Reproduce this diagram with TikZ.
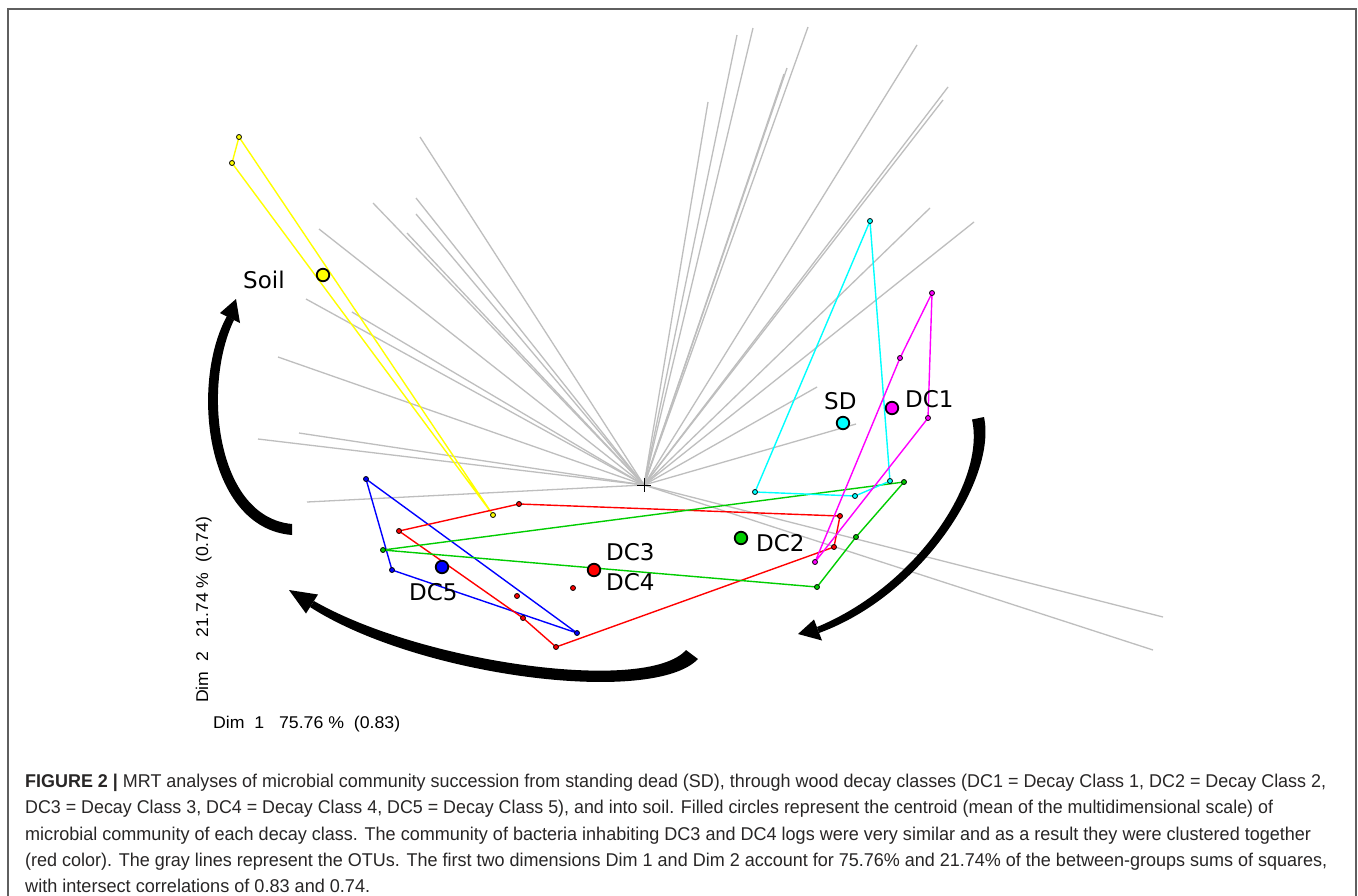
\documentclass[tikz,border=0pt]{standalone}
\usepackage{fontspec}
\setmainfont{Liberation Sans}
\newfontfamily\dejavu{DejaVu Sans}
\usepackage{graphicx}
\definecolor{otugray}{RGB}{190,190,190}
\definecolor{grn}{RGB}{0,205,0}
\definecolor{yel}{RGB}{255,255,0}
\definecolor{blu}{RGB}{0,0,255}
\definecolor{rd}{RGB}{255,0,0}
\definecolor{cyn}{RGB}{0,255,255}
\definecolor{mag}{RGB}{255,0,255}
\definecolor{capcol}{RGB}{40,38,38}
\definecolor{framecol}{RGB}{95,95,95}
\newcommand\fitw[2]{\resizebox{#1pt}{\height}{#2}}
\tikzset{
  otu/.style={draw=otugray, line width=1.3pt},
  hull/.style={line width=1.4pt, line join=round},
  pt/.style={circle, draw=black, line width=0.8pt, inner sep=0pt, minimum size=5pt},
  cen/.style={circle, draw=black, line width=1.8pt, inner sep=0pt, minimum size=12.5pt},
  lbl/.style={font=\dejavu\fontsize{23}{23}\selectfont, inner sep=0pt, anchor=base west},
  capline/.style={font=\fontsize{18.5}{18.5}\selectfont, text=capcol, inner sep=0pt, anchor=base west},
  axlbl/.style={font=\fontsize{17}{17}\selectfont, inner sep=0pt, anchor=base west},
  brush/.style={fill=black},
}
\begin{document}
\begin{tikzpicture}[x=1pt,y=-1pt]
\useasboundingbox (0,0) rectangle (1358,895);
\fill[white] (0,0) rectangle (1358,895);
% frame
\draw[framecol, line width=1.6pt] (8,897) -- (8,9) -- (1356,9) -- (1356,897);

% OTU gray lines
\coordinate (ctr) at (644,485);
\foreach \x/\y [count=\i] in {420/137,373/203,416/198,416/214,407/233,319/229,306/299,352/312,278/357,299/433,258/439,307/502,
  737/35,753/28,808/27,787/68,784/74,708/102,917/45,948/87,943/100,930/208,974/222,817/387,856/424,
  1163/617,1153/650}{
  \coordinate (o\i) at (\x,\y);
  \draw[otu] (ctr) -- (o\i);
}
\draw[black, line width=0.9pt] (ctr) ++(-7,0) -- ++(14,0);
\draw[black, line width=0.9pt] (ctr) ++(0,-7) -- ++(0,14);

% sample points
\coordinate (y1) at (239,137); \coordinate (y2) at (232,163); \coordinate (y3) at (493,515);
\coordinate (b1) at (366,479); \coordinate (b2) at (392,570); \coordinate (b3) at (577,633);
\coordinate (r1) at (399,531); \coordinate (r2) at (519,504); \coordinate (r3) at (840,516);
\coordinate (r4) at (834,547); \coordinate (r5) at (556,647); \coordinate (r6) at (523,618);
\coordinate (r7) at (517,596); \coordinate (r8) at (573,588);
\coordinate (g1) at (383,550); \coordinate (g2) at (904,482); \coordinate (g3) at (856,537); \coordinate (g4) at (817,587);
\coordinate (c1) at (870,221); \coordinate (c2) at (755,492); \coordinate (c3) at (855,496); \coordinate (c4) at (890,481);
\coordinate (m1) at (932,293); \coordinate (m2) at (928,418); \coordinate (m3) at (815,562); \coordinate (m4) at (900,358);

% hulls
\draw[hull, yel] (y1) -- (y3) -- (y2) -- cycle;
\draw[hull, blu] (b1) -- (b2) -- (b3) -- cycle;
\draw[hull, rd] (r1) -- (r2) -- (r3) -- (r4) -- (r5) -- (r6) -- cycle;
\draw[hull, grn] (g1) -- (g2) -- (g3) -- (g4) -- cycle;
\draw[hull, cyn] (c1) -- (c2) -- (c3) -- (c4) -- cycle;
\draw[hull, mag] (m1) -- (m2) -- (m3) -- (m4) -- cycle;

% point markers
\foreach \p in {y1,y2,y3}{\node[pt, fill=yel] (p\p) at (\p) {};}
\foreach \p in {b1,b2,b3}{\node[pt, fill=blu] (p\p) at (\p) {};}
\foreach \p in {r1,r2,r3,r4,r5,r6,r7,r8}{\node[pt, fill=rd] (p\p) at (\p) {};}
\foreach \p in {g1,g2,g3,g4}{\node[pt, fill=grn] (p\p) at (\p) {};}
\foreach \p in {c1,c2,c3,c4}{\node[pt, fill=cyn] (p\p) at (\p) {};}
\foreach \p in {m1,m2,m3,m4}{\node[pt, fill=mag] (p\p) at (\p) {};}

% centroids
\node[cen, fill=yel] (soil) at (323,275) {};
\node[cen, fill=cyn] (sd) at (843,423) {};
\node[cen, fill=mag] (dc1) at (892,408) {};
\node[cen, fill=grn] (dc2) at (741,538) {};
\node[cen, fill=rd] (dc34) at (594,570) {};
\node[cen, fill=blu] (dc5) at (442,567) {};

% labels
\node[lbl] (lsoil) at (243,288) {Soil};
\node[lbl] (lsd) at (824,409) {SD};
\node[lbl] (ldc1) at (905,407) {DC1};
\node[lbl] (ldc2) at (756,551) {DC2};
\node[lbl] (ldc3) at (606,560) {DC3};
\node[lbl] (ldc4) at (606,590) {DC4};
\node[lbl] (ldc5) at (409,600) {DC5};

% curved arrows
\fill[brush] (292,535) .. controls (205,528) and (190,383) .. (227,316) -- (234,320) .. controls (202,386) and (216,517) .. (292,524) -- cycle;
\fill[brush] (236,299) -- (220,313) -- (240,323) -- cycle;

\fill[brush] (984,417) .. controls (997,478) and (923,595) .. (819,633) -- (817,627) .. controls (916,586) and (986,482) .. (972,419.5) -- cycle;
\fill[brush] (798,634) -- (814,619.5) -- (822,640.5) -- cycle;

\fill[brush] (698,659) .. controls (653,706) and (419,677) .. (310,607) -- (314,601) .. controls (422,663) and (647,694) .. (686,650) -- cycle;
\fill[brush] (289,590) -- (318,594.5) -- (306,613.5) -- cycle;

% axis labels
\node[axlbl] (dim1) at (213,728) {\fitw{187}{Dim\ \ 1\ \ \ 75.76\ \%\ \ (0.83)}};
\node[axlbl, rotate=90] (dim2) at (208,703) {\fitw{186}{Dim\ \ 2\ \ \ 21.74\ \%\ \ (0.74)}};

% caption
\node[capline] (cap1) at (25,787) {\fitw{1301}{\textbf{FIGURE 2 |} MRT analyses of microbial community succession from standing dead (SD), through wood decay classes (DC1 = Decay Class 1, DC2 = Decay Class 2,}};
\node[capline] (cap2) at (25,813) {\fitw{1248}{DC3 = Decay Class 3, DC4 = Decay Class 4, DC5 = Decay Class 5), and into soil. Filled circles represent the centroid (mean of the multidimensional scale) of}};
\node[capline] (cap3) at (25,840) {\fitw{1286}{microbial community of each decay class. The community of bacteria inhabiting DC3 and DC4 logs were very similar and as a result they were clustered together}};
\node[capline] (cap4) at (25,866) {\fitw{1302}{(red color). The gray lines represent the OTUs. The first two dimensions Dim 1 and Dim 2 account for 75.76\% and 21.74\% of the between-groups sums of squares,}};
\node[capline] (cap5) at (25,892) {\fitw{345}{with intersect correlations of 0.83 and 0.74.}};
\end{tikzpicture}
\end{document}
